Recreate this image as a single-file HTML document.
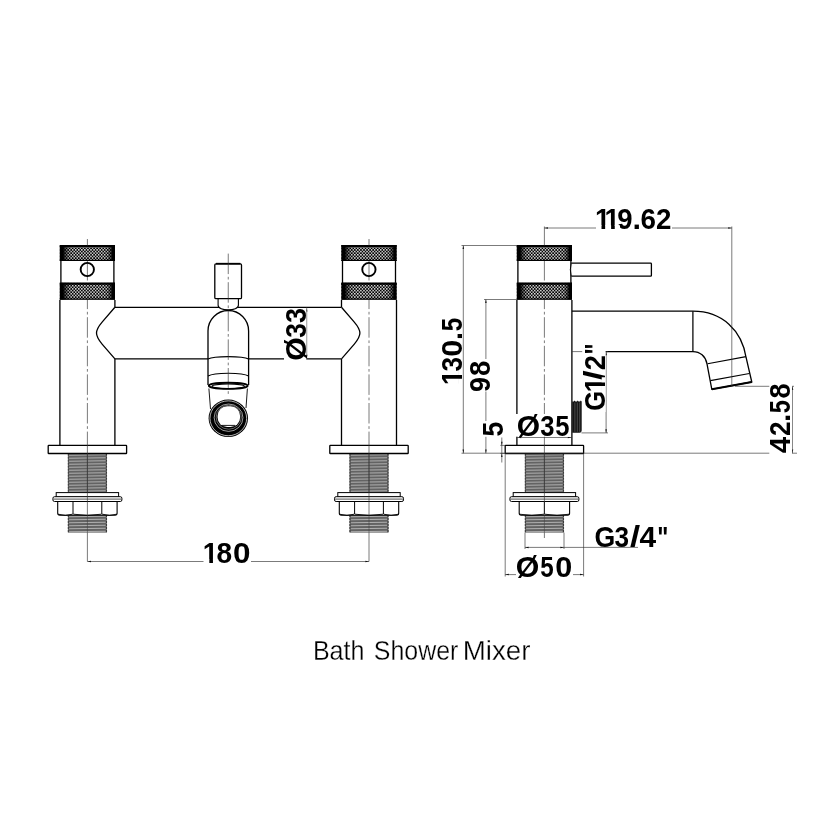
<!DOCTYPE html>
<html lang="en">
<head>
<meta charset="utf-8">
<title>Bath Shower Mixer</title>
<style>
html,body{margin:0;padding:0;background:#fff;}
body{width:840px;height:840px;overflow:hidden;font-family:"Liberation Sans",sans-serif;}
svg{display:block;will-change:transform;}
.dim text{font-family:"Liberation Sans",sans-serif;font-weight:bold;fill:#000;}
.cap{font-family:"Liberation Sans",sans-serif;font-weight:normal;fill:#000;}
</style>
</head>
<body>
<svg width="840" height="840" viewBox="0 0 840 840">
<defs>
<pattern id="kn" x="0.3" y="0.55" width="3.05" height="3.25" patternUnits="userSpaceOnUse">
<rect width="3.05" height="3.25" fill="#000"/>
<rect x="0" y="0" width="1.45" height="1.5" rx="0.3" fill="#f4f4f4"/>
<rect x="1.52" y="1.62" width="1.45" height="1.5" rx="0.3" fill="#f4f4f4"/>
</pattern>
<linearGradient id="kg" x1="0" x2="1" y1="0" y2="0">
<stop offset="0" stop-color="#000" stop-opacity="1"/>
<stop offset="0.06" stop-color="#000" stop-opacity="1"/>
<stop offset="0.1" stop-color="#000" stop-opacity="0.55"/>
<stop offset="0.17" stop-color="#000" stop-opacity="0.1"/>
<stop offset="0.25" stop-color="#000" stop-opacity="0"/>
<stop offset="0.78" stop-color="#000" stop-opacity="0"/>
<stop offset="0.86" stop-color="#000" stop-opacity="0.1"/>
<stop offset="0.92" stop-color="#000" stop-opacity="0.55"/>
<stop offset="0.955" stop-color="#000" stop-opacity="1"/>
<stop offset="1" stop-color="#000" stop-opacity="1"/>
</linearGradient>
</defs>
<rect width="840" height="840" fill="#fff"/>

<g id="front">
<rect x="68.10000000000001" y="453.5" width="38.60" height="39.00" fill="#636363"/><path d="M69.10,455.25L105.70,454.75M69.10,458.25L105.70,457.75M69.10,461.25L105.70,460.75M69.10,464.25L105.70,463.75M69.10,467.25L105.70,466.75M69.10,470.25L105.70,469.75M69.10,473.25L105.70,472.75M69.10,476.25L105.70,475.75M69.10,479.25L105.70,478.75M69.10,482.25L105.70,481.75M69.10,485.25L105.70,484.75M69.10,488.25L105.70,487.75M69.10,491.25L105.70,490.75" stroke="#b0b0b0" stroke-width="1" fill="none"/><path d="M68.30000000000001,453.5V492.5M106.5,453.5V492.5" stroke="#3a3a3a" stroke-width="1.1" fill="none" stroke-dasharray="2.2 0.8"/><rect x="68.10000000000001" y="515" width="38.60" height="17.60" fill="#636363"/><path d="M69.10,516.75L105.70,516.25M69.10,519.75L105.70,519.25M69.10,522.75L105.70,522.25M69.10,525.75L105.70,525.25M69.10,528.75L105.70,528.25M69.10,531.75L105.70,531.25" stroke="#b0b0b0" stroke-width="1" fill="none"/><path d="M68.30000000000001,515V532.6M106.5,515V532.6" stroke="#3a3a3a" stroke-width="1.1" fill="none" stroke-dasharray="2.2 0.8"/><path d="M87.4,453.5V532.6" stroke="#444" stroke-width="0.6"/><rect x="48.2" y="445.4" width="78.4" height="8.1" rx="0.6" fill="#fff" stroke="#000" stroke-width="1.3"/><rect x="56.2" y="492.6" width="62.4" height="4.4" fill="#fff" stroke="#000" stroke-width="1"/><rect x="52.900000000000006" y="496.7" width="69" height="4.8" rx="1.6" fill="#fff" stroke="#000" stroke-width="1"/><path d="M53.400000000000006,499.1H121.4" stroke="#000" stroke-width="0.7"/><path d="M57.7,501.5V513.3Q57.7,515.2 59.7,515.2H115.10000000000001Q117.10000000000001,515.2 117.10000000000001,513.3V501.5Z" fill="#fff" stroke="#000" stroke-width="1.1"/><path d="M58.0,514.2Q65.35,516.6 72.7,514.2" fill="none" stroke="#000" stroke-width="0.9"/><path d="M73.3,514.2Q87.4,516.6 101.50000000000001,514.2" fill="none" stroke="#000" stroke-width="0.9"/><path d="M102.10000000000001,514.2Q109.45000000000002,516.6 116.80000000000001,514.2" fill="none" stroke="#000" stroke-width="0.9"/><path d="M73.0,501.5V514" stroke="#000" stroke-width="1"/><path d="M101.80000000000001,501.5V514" stroke="#000" stroke-width="1"/><path d="M87.4,445V516" stroke="#333" stroke-width="0.65"/><path d="M59.900000000000006,300V445.4M114.9,300V307M114.9,359V445.4M60.900000000000006,260V283M113.9,260V283" stroke="#000" stroke-width="1.3" fill="none"/><path d="M87.4,260V445" stroke="#333" stroke-width="0.65" stroke-dasharray="20.5 2.7 2.7 2.7" stroke-dashoffset="0" fill="none"/><rect x="59.800000000000004" y="245.2" width="55.20" height="15.70" fill="url(#kn)"/><rect x="59.800000000000004" y="245.2" width="55.20" height="15.70" fill="url(#kg)"/><path d="M59.800000000000004,246.00h55.20" stroke="#000" stroke-width="2.2" fill="none"/><path d="M59.800000000000004,260.45h55.20" stroke="#000" stroke-width="1.3" fill="none"/><rect x="59.800000000000004" y="282.9" width="55.20" height="16.60" fill="url(#kn)"/><rect x="59.800000000000004" y="282.9" width="55.20" height="16.60" fill="url(#kg)"/><path d="M59.800000000000004,283.70h55.20" stroke="#000" stroke-width="2.2" fill="none"/><path d="M59.800000000000004,299.05h55.20" stroke="#000" stroke-width="1.3" fill="none"/><circle cx="87.30000000000001" cy="269.5" r="6.65" fill="none" stroke="#000" stroke-width="1.9"/><path d="M87.4,239V245.5M87.4,532.6V561.5" stroke="#333" stroke-width="0.65"/>
<rect x="349.7" y="453.5" width="38.60" height="39.00" fill="#636363"/><path d="M350.70,455.25L387.30,454.75M350.70,458.25L387.30,457.75M350.70,461.25L387.30,460.75M350.70,464.25L387.30,463.75M350.70,467.25L387.30,466.75M350.70,470.25L387.30,469.75M350.70,473.25L387.30,472.75M350.70,476.25L387.30,475.75M350.70,479.25L387.30,478.75M350.70,482.25L387.30,481.75M350.70,485.25L387.30,484.75M350.70,488.25L387.30,487.75M350.70,491.25L387.30,490.75" stroke="#b0b0b0" stroke-width="1" fill="none"/><path d="M349.9,453.5V492.5M388.1,453.5V492.5" stroke="#3a3a3a" stroke-width="1.1" fill="none" stroke-dasharray="2.2 0.8"/><rect x="349.7" y="515" width="38.60" height="17.60" fill="#636363"/><path d="M350.70,516.75L387.30,516.25M350.70,519.75L387.30,519.25M350.70,522.75L387.30,522.25M350.70,525.75L387.30,525.25M350.70,528.75L387.30,528.25M350.70,531.75L387.30,531.25" stroke="#b0b0b0" stroke-width="1" fill="none"/><path d="M349.9,515V532.6M388.1,515V532.6" stroke="#3a3a3a" stroke-width="1.1" fill="none" stroke-dasharray="2.2 0.8"/><path d="M369.0,453.5V532.6" stroke="#444" stroke-width="0.6"/><rect x="329.8" y="445.4" width="78.4" height="8.1" rx="0.6" fill="#fff" stroke="#000" stroke-width="1.3"/><rect x="337.8" y="492.6" width="62.4" height="4.4" fill="#fff" stroke="#000" stroke-width="1"/><rect x="334.5" y="496.7" width="69" height="4.8" rx="1.6" fill="#fff" stroke="#000" stroke-width="1"/><path d="M335.0,499.1H403.0" stroke="#000" stroke-width="0.7"/><path d="M339.3,501.5V513.3Q339.3,515.2 341.3,515.2H396.7Q398.7,515.2 398.7,513.3V501.5Z" fill="#fff" stroke="#000" stroke-width="1.1"/><path d="M339.6,514.2Q346.95000000000005,516.6 354.3,514.2" fill="none" stroke="#000" stroke-width="0.9"/><path d="M354.90000000000003,514.2Q369.0,516.6 383.09999999999997,514.2" fill="none" stroke="#000" stroke-width="0.9"/><path d="M383.7,514.2Q391.04999999999995,516.6 398.4,514.2" fill="none" stroke="#000" stroke-width="0.9"/><path d="M354.6,501.5V514" stroke="#000" stroke-width="1"/><path d="M383.4,501.5V514" stroke="#000" stroke-width="1"/><path d="M369.0,445V516" stroke="#333" stroke-width="0.65"/><path d="M396.5,300V445.4M341.5,300V307M341.5,359V445.4M342.5,260V283M395.5,260V283" stroke="#000" stroke-width="1.3" fill="none"/><path d="M369.0,260V445" stroke="#333" stroke-width="0.65" stroke-dasharray="20.5 2.7 2.7 2.7" stroke-dashoffset="0" fill="none"/><rect x="341.4" y="245.2" width="55.20" height="15.70" fill="url(#kn)"/><rect x="341.4" y="245.2" width="55.20" height="15.70" fill="url(#kg)"/><path d="M341.4,246.00h55.20" stroke="#000" stroke-width="2.2" fill="none"/><path d="M341.4,260.45h55.20" stroke="#000" stroke-width="1.3" fill="none"/><rect x="341.4" y="282.9" width="55.20" height="16.60" fill="url(#kn)"/><rect x="341.4" y="282.9" width="55.20" height="16.60" fill="url(#kg)"/><path d="M341.4,283.70h55.20" stroke="#000" stroke-width="2.2" fill="none"/><path d="M341.4,299.05h55.20" stroke="#000" stroke-width="1.3" fill="none"/><circle cx="368.9" cy="269.5" r="6.65" fill="none" stroke="#000" stroke-width="1.9"/><path d="M369.0,239V245.5M369.0,532.6V561.5" stroke="#333" stroke-width="0.65"/>
<path d="M114.9,307.3H341.5M114.9,358.9H341.5" stroke="#000" stroke-width="1.3" fill="none"/>
<path d="M114.90,307.3L102.10,322.1C98.60,326.2 96.50,329.2 96.50,333.1C96.50,337 98.60,340 102.10,344.1L114.90,358.9" stroke="#000" stroke-width="1.3" fill="none" stroke-linejoin="round"/>
<path d="M341.50,307.3L354.30,322.1C357.80,326.2 359.90,329.2 359.90,333.1C359.90,337 357.80,340 354.30,344.1L341.50,358.9" stroke="#000" stroke-width="1.3" fill="none" stroke-linejoin="round"/>
<path d="M218.1,298.5V305.3C218.1,308.3 223,309.9 228.25,309.9C233.5,309.9 238.4,308.3 238.4,305.3V298.5Z" fill="#fff" stroke="#000" stroke-width="1.1"/>
<rect x="214.8" y="263.9" width="26.7" height="34.7" rx="1.2" fill="#fff" stroke="#000" stroke-width="1.3"/>
<path d="M216,263.7H240.3" stroke="#000" stroke-width="1.7"/>
<path d="M208,385V330.9A20.3,20.4 0 0 1 248.6,330.9V385L247.6,389L246,408H210.5L209,389Z" fill="#fff" stroke="none"/>
<path d="M208,385V330.9A20.3,20.4 0 0 1 248.6,330.9V385" fill="none" stroke="#000" stroke-width="1.3"/>
<path d="M208,359.1C214,355.8 242.6,355.8 248.6,359.1" fill="none" stroke="#000" stroke-width="1.15"/>
<path d="M208,376.1C214,372.3 242.6,372.3 248.6,376.1" fill="none" stroke="#000" stroke-width="1.15"/>
<path d="M228.25,253.6V394.3" stroke="#333" stroke-width="0.65" stroke-dasharray="20.5 2.7 2.7 2.7" stroke-dashoffset="0" fill="none"/>
<path d="M208.9,388.5L210.5,409M247.4,388.5L246,408" fill="none" stroke="#000" stroke-width="0.9"/>
<ellipse cx="228.25" cy="385.8" rx="19.4" ry="3.1" fill="none" stroke="#000" stroke-width="1.9"/>
<ellipse cx="228.25" cy="386.3" rx="16.2" ry="2.3" fill="none" stroke="#000" stroke-width="1.1"/>
<ellipse cx="228.3" cy="418.3" rx="19.7" ry="18.8" fill="#000"/>
<ellipse cx="228.3" cy="418.3" rx="18.35" ry="17.45" fill="none" stroke="#fff" stroke-width="0.7"/>
<ellipse cx="228.55" cy="417.7" rx="14.4" ry="13.7" fill="none" stroke="#fff" stroke-width="0.6"/>
<ellipse cx="228.75" cy="417.2" rx="12.6" ry="12" fill="none" stroke="#e0e0e0" stroke-width="0.45"/>
<rect x="217.6" y="406.3" width="22.5" height="20.8" rx="9.6" ry="9.6" fill="#fff"/>
<path d="M221.6,425.4H235" stroke="#000" stroke-width="0.9"/>
</g>
<g id="side">
<rect x="525.1" y="453.5" width="38.60" height="39.00" fill="#636363"/><path d="M526.10,455.25L562.70,454.75M526.10,458.25L562.70,457.75M526.10,461.25L562.70,460.75M526.10,464.25L562.70,463.75M526.10,467.25L562.70,466.75M526.10,470.25L562.70,469.75M526.10,473.25L562.70,472.75M526.10,476.25L562.70,475.75M526.10,479.25L562.70,478.75M526.10,482.25L562.70,481.75M526.10,485.25L562.70,484.75M526.10,488.25L562.70,487.75M526.10,491.25L562.70,490.75" stroke="#b0b0b0" stroke-width="1" fill="none"/><path d="M525.3000000000001,453.5V492.5M563.4999999999999,453.5V492.5" stroke="#3a3a3a" stroke-width="1.1" fill="none" stroke-dasharray="2.2 0.8"/><rect x="525.1" y="515" width="38.60" height="17.60" fill="#636363"/><path d="M526.10,516.75L562.70,516.25M526.10,519.75L562.70,519.25M526.10,522.75L562.70,522.25M526.10,525.75L562.70,525.25M526.10,528.75L562.70,528.25M526.10,531.75L562.70,531.25" stroke="#b0b0b0" stroke-width="1" fill="none"/><path d="M525.3000000000001,515V532.6M563.4999999999999,515V532.6" stroke="#3a3a3a" stroke-width="1.1" fill="none" stroke-dasharray="2.2 0.8"/><path d="M544.4,453.5V532.6" stroke="#444" stroke-width="0.6"/><rect x="505.2" y="445.4" width="78.4" height="8.1" rx="0.6" fill="#fff" stroke="#000" stroke-width="1.3"/><rect x="513.1999999999999" y="492.6" width="62.4" height="4.4" fill="#fff" stroke="#000" stroke-width="1"/><rect x="509.9" y="496.7" width="69" height="4.8" rx="1.6" fill="#fff" stroke="#000" stroke-width="1"/><path d="M510.4,499.1H578.4" stroke="#000" stroke-width="0.7"/><path d="M519.1999999999999,501.5V513.3Q519.1999999999999,515.2 521.1999999999999,515.2H567.6Q569.6,515.2 569.6,513.3V501.5Z" fill="#fff" stroke="#000" stroke-width="1.1"/><path d="M519.4999999999999,514.2Q531.8,516.6 544.1,514.2" fill="none" stroke="#000" stroke-width="0.9"/><path d="M544.6999999999999,514.2Q557.0,516.6 569.3000000000001,514.2" fill="none" stroke="#000" stroke-width="0.9"/><path d="M544.4,501.5V514" stroke="#000" stroke-width="1"/><path d="M544.4,445V516" stroke="#333" stroke-width="0.65"/>
<path d="M516.9,300V445.4M571.9,300V445.4M517.9,260V283M570.9,260V283" stroke="#000" stroke-width="1.3" fill="none"/>
<path d="M544.4,260V445" stroke="#333" stroke-width="0.65" stroke-dasharray="20.5 2.7 2.7 2.7" stroke-dashoffset="0" fill="none"/>
<rect x="516.8" y="245.2" width="55.20" height="15.70" fill="url(#kn)"/><rect x="516.8" y="245.2" width="55.20" height="15.70" fill="url(#kg)"/><path d="M516.8,246.00h55.20" stroke="#000" stroke-width="2.2" fill="none"/><path d="M516.8,260.45h55.20" stroke="#000" stroke-width="1.3" fill="none"/>
<rect x="516.8" y="282.9" width="55.20" height="16.60" fill="url(#kn)"/><rect x="516.8" y="282.9" width="55.20" height="16.60" fill="url(#kg)"/><path d="M516.8,283.70h55.20" stroke="#000" stroke-width="2.2" fill="none"/><path d="M516.8,299.05h55.20" stroke="#000" stroke-width="1.3" fill="none"/>
<path d="M544.4,532.6V538" stroke="#333" stroke-width="0.65"/>
<path d="M571.3,263.2H650.6Q651.4,263.2 651.4,264V275.4Q651.4,276.2 650.6,276.2H571.3" fill="#fff" stroke="#000" stroke-width="1.3"/>
<path d="M571.3,263.2Q569.3,269.7 571.3,276.2" fill="none" stroke="#000" stroke-width="0.9"/>
<path d="M571.9,311.2H692.9C722,311.2 742,330.3 746.2,358L751.8,382L711.8,389.3L707,363.8C705.5,356.2 700,351.6 692.9,351.6H605" fill="none" stroke="#000" stroke-width="1.3"/>
<path d="M692.9,311.2V351.6" stroke="#000" stroke-width="1.25"/>
<path d="M707.6,363.7L746,356.6M710.4,380.6L749.4,373.5" stroke="#000" stroke-width="1.15" fill="none"/>
<path d="M711.8,389.3L751.8,382" stroke="#000" stroke-width="1.9" fill="none"/>
</g>
<g fill="none" stroke="#333" stroke-width="0.65">
<path d="M87.4,561.5H369"/>
<path d="M306.7,307.3V358.9"/>
<path d="M544.4,228H731.8M731.8,226.5V386.3M544.4,226.5V245.5"/>
<path d="M461.5,245.5H517M463.3,245.5V453.3"/>
<path d="M484,299.5H517M485.9,299.5V453.3"/>
<path d="M461.5,453.2H797"/>
<path d="M501.8,437.5V462.5M500.3,445.4H505M500.3,453.4H505"/>
<path d="M517,437.5H572"/>
<path d="M572,351.6H608M606.1,351.6V432.9M581.5,432.9H608"/>
<path d="M735,386.3H794M792.5,386.3V453.3"/>
<path d="M525,532.6V549M564,532.6V549M525,547.4H638"/>
<path d="M505.2,454V576.5M583.6,454V576.5M505.2,574.6H583.6"/>
</g>
<g>
<path d="M87.4,561.5L91.00,562.25L91.00,560.75Z" fill="#111" stroke="none"/>
<path d="M369,561.5L365.40,560.75L365.40,562.25Z" fill="#111" stroke="none"/>
<path d="M306.7,307.9L305.95,311.50L307.45,311.50Z" fill="#111" stroke="none"/>
<path d="M306.7,358.3L307.45,354.70L305.95,354.70Z" fill="#111" stroke="none"/>
<path d="M544.4,228L548.00,228.75L548.00,227.25Z" fill="#111" stroke="none"/>
<path d="M731.8,228L728.20,227.25L728.20,228.75Z" fill="#111" stroke="none"/>
<path d="M463.3,245.5L462.55,249.10L464.05,249.10Z" fill="#111" stroke="none"/>
<path d="M463.3,453.2L464.05,449.60L462.55,449.60Z" fill="#111" stroke="none"/>
<path d="M485.9,299.5L485.15,303.10L486.65,303.10Z" fill="#111" stroke="none"/>
<path d="M485.9,453.2L486.65,449.60L485.15,449.60Z" fill="#111" stroke="none"/>
<path d="M501.8,445.4L502.55,441.80L501.05,441.80Z" fill="#111" stroke="none"/>
<path d="M501.8,453.4L501.05,457.00L502.55,457.00Z" fill="#111" stroke="none"/>
<path d="M517.6,437.5L521.20,438.25L521.20,436.75Z" fill="#111" stroke="none"/>
<path d="M571.4,437.5L567.80,436.75L567.80,438.25Z" fill="#111" stroke="none"/>
<path d="M606.1,351.6L605.35,355.20L606.85,355.20Z" fill="#111" stroke="none"/>
<path d="M606.1,432.9L606.85,429.30L605.35,429.30Z" fill="#111" stroke="none"/>
<path d="M792.5,386.3L791.75,389.90L793.25,389.90Z" fill="#111" stroke="none"/>
<path d="M792.5,453.2L793.25,449.60L791.75,449.60Z" fill="#111" stroke="none"/>
<path d="M525,547.4L528.60,548.15L528.60,546.65Z" fill="#111" stroke="none"/>
<path d="M564,547.4L560.40,546.65L560.40,548.15Z" fill="#111" stroke="none"/>
<path d="M505.2,574.6L508.80,575.35L508.80,573.85Z" fill="#111" stroke="none"/>
<path d="M583.6,574.6L580.00,573.85L580.00,575.35Z" fill="#111" stroke="none"/>
</g>
<g>
<rect x="203.5" y="541" width="47.50" height="23.00" fill="#fff"/>
<rect x="284" y="308" width="22.30" height="52.50" fill="#fff"/>
<rect x="596" y="207" width="76.00" height="24.00" fill="#fff"/>
<rect x="468" y="359" width="23.00" height="32.50" fill="#fff"/>
<rect x="481" y="421" width="22.00" height="15.80" fill="#fff"/>
<rect x="515" y="414" width="55.30" height="22.70" fill="#fff"/>
<rect x="582.2" y="344" width="23.40" height="68.00" fill="#fff"/>
<rect x="769.3" y="384.5" width="22.80" height="69.50" fill="#fff"/>
<rect x="516" y="556" width="57.00" height="21.50" fill="#fff"/>
</g>
<path d="M572.1999999999999,401.4h1.6l0.8,-0.9 0.8,0.9h1.5l0.8,-0.9 0.8,0.9h1.5l0.8,-0.9 0.9,0.9V430.6Q581.6999999999999,432.8 579.5,432.8H572.1999999999999Z" fill="#151515"/>
<path d="M574.9,402.5V431.8M577.3,402.5V431.8M579.6999999999999,402.5V431.8" stroke="#777" stroke-width="0.55"/>
<g class="dim">
<clipPath id="cl1"><rect x="-10" y="-29.30" width="85.20" height="26.02"/><rect x="-10.00" y="-3.52" width="9.64" height="8.79"/><rect x="5.31" y="-3.52" width="3.64" height="8.79"/><rect x="14.23" y="-3.52" width="60.97" height="8.79"/></clipPath><g transform="translate(204.00,562.6)"><text y="0" font-size="29.3" clip-path="url(#cl1)"><tspan x="-1.19" textLength="15.31" lengthAdjust="spacingAndGlyphs">1</tspan><tspan x="12.60" textLength="15.60" lengthAdjust="spacingAndGlyphs">8</tspan><tspan x="29.04" textLength="17.48" lengthAdjust="spacingAndGlyphs">0</tspan></text></g>
<clipPath id="cl2"><rect x="-10" y="-29.30" width="114.20" height="26.02"/><rect x="-10.00" y="-3.52" width="9.84" height="8.79"/><rect x="5.51" y="-3.52" width="3.64" height="8.79"/><rect x="15.11" y="-3.52" width="3.64" height="8.79"/><rect x="24.03" y="-3.52" width="80.17" height="8.79"/></clipPath><g transform="translate(596.00,228.5)"><text y="0" font-size="29.3" clip-path="url(#cl2)"><tspan x="-0.99" textLength="15.31" lengthAdjust="spacingAndGlyphs">1</tspan><tspan x="8.61" textLength="15.31" lengthAdjust="spacingAndGlyphs">1</tspan><tspan x="21.34" textLength="15.31" lengthAdjust="spacingAndGlyphs">9</tspan><tspan x="36.41" textLength="8.54" lengthAdjust="spacingAndGlyphs">.</tspan><tspan x="44.57" textLength="15.46" lengthAdjust="spacingAndGlyphs">6</tspan><tspan x="59.93" textLength="15.41" lengthAdjust="spacingAndGlyphs">2</tspan></text></g>
<g transform="translate(515.90,436.0)"><text y="0" font-size="29.3"><tspan x="0.77" textLength="23.32" lengthAdjust="spacingAndGlyphs">Ø</tspan><tspan x="24.41" textLength="14.24" lengthAdjust="spacingAndGlyphs">3</tspan><tspan x="39.31" textLength="14.24" lengthAdjust="spacingAndGlyphs">5</tspan></text></g>
<g transform="translate(515.00,576.5)"><text y="0" font-size="29.3"><tspan x="0.76" textLength="23.54" lengthAdjust="spacingAndGlyphs">Ø</tspan><tspan x="25.25" textLength="13.45" lengthAdjust="spacingAndGlyphs">5</tspan><tspan x="40.28" textLength="17.01" lengthAdjust="spacingAndGlyphs">0</tspan></text></g>
<g transform="translate(593.50,546.7)"><text y="0" font-size="29.3"><tspan x="0.91" textLength="20.78" lengthAdjust="spacingAndGlyphs">G</tspan><tspan x="20.90" textLength="14.57" lengthAdjust="spacingAndGlyphs">3</tspan><tspan x="36.43" textLength="10.18" lengthAdjust="spacingAndGlyphs">/</tspan><tspan x="46.05" textLength="16.63" lengthAdjust="spacingAndGlyphs">4</tspan><tspan x="63.71" textLength="11.11" lengthAdjust="spacingAndGlyphs">"</tspan></text></g>
<g transform="translate(306.0,361.50) rotate(-90)"><text y="0" font-size="29.3"><tspan x="0.77" textLength="23.43" lengthAdjust="spacingAndGlyphs">Ø</tspan><tspan x="23.80" textLength="14.57" lengthAdjust="spacingAndGlyphs">3</tspan><tspan x="38.48" textLength="15.02" lengthAdjust="spacingAndGlyphs">3</tspan></text></g>
<clipPath id="cl3"><rect x="-10" y="-29.30" width="105.30" height="26.02"/><rect x="-10.00" y="-3.52" width="9.44" height="8.79"/><rect x="5.11" y="-3.52" width="3.64" height="8.79"/><rect x="14.03" y="-3.52" width="81.27" height="8.79"/></clipPath><g transform="translate(462.3,383.80) rotate(-90)"><text y="0" font-size="29.3" clip-path="url(#cl3)"><tspan x="-1.39" textLength="15.31" lengthAdjust="spacingAndGlyphs">1</tspan><tspan x="12.20" textLength="14.57" lengthAdjust="spacingAndGlyphs">3</tspan><tspan x="27.08" textLength="17.01" lengthAdjust="spacingAndGlyphs">0</tspan><tspan x="43.86" textLength="7.94" lengthAdjust="spacingAndGlyphs">.</tspan><tspan x="52.55" textLength="13.45" lengthAdjust="spacingAndGlyphs">5</tspan></text></g>
<g transform="translate(489.9,393.00) rotate(-90)"><text y="0" font-size="29.3"><tspan x="1.06" textLength="14.96" lengthAdjust="spacingAndGlyphs">9</tspan><tspan x="17.12" textLength="15.26" lengthAdjust="spacingAndGlyphs">8</tspan></text></g>
<g transform="translate(502.6,437.60) rotate(-90)"><text y="0" font-size="29.3"><tspan x="1.18" textLength="14.68" lengthAdjust="spacingAndGlyphs">5</tspan></text></g>
<clipPath id="cl4"><rect x="-10" y="-29.30" width="105.40" height="26.02"/><rect x="-10.00" y="-3.52" width="30.04" height="8.79"/><rect x="25.71" y="-3.52" width="3.64" height="8.79"/><rect x="34.63" y="-3.52" width="60.77" height="8.79"/></clipPath><g transform="translate(605.0,411.80) rotate(-90)"><text y="0" font-size="29.3" clip-path="url(#cl4)"><tspan x="0.95" textLength="19.85" lengthAdjust="spacingAndGlyphs">G</tspan><tspan x="19.21" textLength="15.31" lengthAdjust="spacingAndGlyphs">1</tspan><tspan x="31.28" textLength="10.18" lengthAdjust="spacingAndGlyphs">/</tspan><tspan x="41.54" textLength="15.17" lengthAdjust="spacingAndGlyphs">2</tspan><tspan x="57.26" textLength="11.11" lengthAdjust="spacingAndGlyphs">"</tspan></text></g>
<g transform="translate(790.4,454.90) rotate(-90)"><text y="0" font-size="29.3"><tspan x="1.56" textLength="16.42" lengthAdjust="spacingAndGlyphs">4</tspan><tspan x="18.79" textLength="14.48" lengthAdjust="spacingAndGlyphs">2</tspan><tspan x="32.96" textLength="8.34" lengthAdjust="spacingAndGlyphs">.</tspan><tspan x="41.66" textLength="13.03" lengthAdjust="spacingAndGlyphs">5</tspan><tspan x="56.43" textLength="15.14" lengthAdjust="spacingAndGlyphs">8</tspan></text></g>
</g>
<text class="cap" y="659.8" font-size="28" stroke="#fff" stroke-width="0.3"><tspan x="312.9" textLength="51.6" lengthAdjust="spacingAndGlyphs">Bath</tspan> <tspan x="373.85" textLength="84.5" lengthAdjust="spacingAndGlyphs">Shower</tspan> <tspan x="462.7" textLength="67.75" lengthAdjust="spacingAndGlyphs">Mixer</tspan></text>
</svg>
</body>
</html>
